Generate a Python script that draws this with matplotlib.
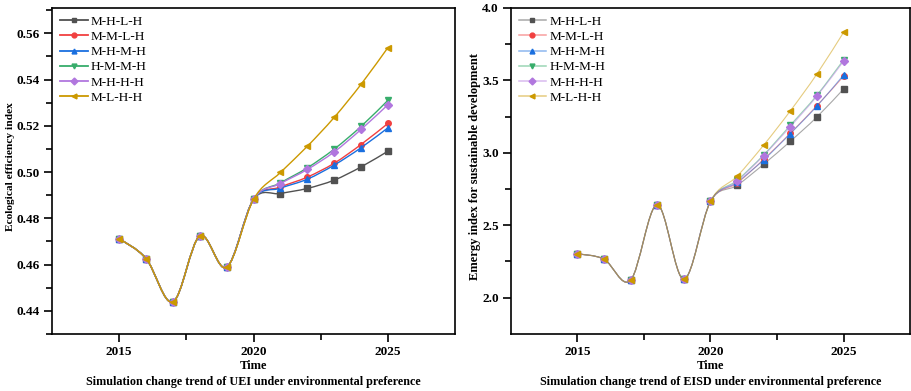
import numpy as np
import matplotlib
matplotlib.use("Agg")
import matplotlib.pyplot as plt
from matplotlib.path import Path
from matplotlib.patches import PathPatch
from matplotlib.lines import Line2D
from matplotlib.colors import to_rgba
from matplotlib.ticker import FormatStrFormatter

plt.rcParams['font.family'] = ['Liberation Serif', 'DejaVu Serif']

years = [2015, 2016, 2017, 2018, 2019, 2020, 2021, 2022, 2023, 2024, 2025]
names = ['M-H-L-H', 'M-M-L-H', 'M-H-M-H', 'H-M-M-H', 'M-H-H-H', 'M-L-H-H']

# ecological efficiency index (UEI)
uei_hist = [0.4712, 0.4626, 0.4438, 0.4724, 0.4588, 0.4882]
uei_mhlh = [0.4907, 0.4929, 0.4965, 0.5022, 0.5090]
uei_mmlh = [0.4935, 0.4978, 0.5038, 0.5119, 0.5210]
uei_mhmh = [0.4930, 0.4969, 0.5030, 0.5105, 0.5191]
uei_hmmh = [0.4953, 0.5018, 0.5099, 0.5197, 0.5310]
uei_mhhh = [0.4950, 0.5011, 0.5087, 0.5184, 0.5291]
uei_mlhh = [0.4998, 0.5111, 0.5236, 0.5379, 0.5538]

# emergy index for sustainable development (EISD)
eisd_hist = [2.303, 2.266, 2.120, 2.641, 2.127, 2.664]
eisd_mhlh = [2.775, 2.921, 3.079, 3.247, 3.440]
eisd_mmlh = [2.790, 2.955, 3.135, 3.325, 3.528]
eisd_mhmh = [2.796, 2.951, 3.132, 3.322, 3.537]
eisd_hmmh = [2.810, 2.986, 3.190, 3.398, 3.641]
eisd_mhhh = [2.803, 2.981, 3.180, 3.391, 3.632]
eisd_mlhh = [2.838, 3.053, 3.289, 3.544, 3.831]

colors = ['#515151', '#F14040', '#1A6FDF', '#37AD6B', '#B177DE', '#CC9900']
markers = ['s', 'o', '^', 'v', 'D', '<']


def spline_path(x, y):
    # catmull-rom curve through the points, as cubic bezier segments
    x = np.asarray(x, float)
    y = np.asarray(y, float)
    n = len(x)
    verts = [(x[0], y[0])]
    codes = [Path.MOVETO]
    for i in range(n - 1):
        p0 = i - 1 if i > 0 else i
        p3 = i + 2 if i + 2 < n else i + 1
        c1 = (x[i] + (x[i + 1] - x[p0]) / 6, y[i] + (y[i + 1] - y[p0]) / 6)
        c2 = (x[i + 1] - (x[p3] - x[i]) / 6, y[i + 1] - (y[p3] - y[i]) / 6)
        verts += [c1, c2, (x[i + 1], y[i + 1])]
        codes += [Path.CURVE4] * 3
    return Path(verts, codes)


def draw(ax, hist, futures, lw, alpha, ylabel, ylsize, caption, ylim, yticks, yminor, ylx):
    for k, fut in enumerate(futures):
        y = hist + fut
        ax.add_patch(PathPatch(spline_path(years, y), fill=False,
                               edgecolor=to_rgba(colors[k], alpha), lw=lw, zorder=2 + k))
        ax.plot(years, y, linestyle='none', marker=markers[k], ms=4,
                color=colors[k], zorder=3 + k)
    handles = [Line2D([], [], color=to_rgba(colors[k], alpha), marker=markers[k], ms=3.5,
                      mfc=colors[k], mec=colors[k], lw=lw + 0.3) for k in range(6)]
    ax.legend(handles, names, loc='upper left', frameon=False, fontsize=9.5,
              handlelength=2.1, labelspacing=0.22, borderaxespad=0.2,
              handletextpad=0.25)
    ax.set_xlim(2012.5, 2027.5)
    ax.set_ylim(*ylim)
    ax.set_xticks([2015, 2020, 2025])
    ax.set_xticks([2017.5, 2022.5], minor=True)
    ax.set_yticks(yticks)
    ax.set_yticks(yminor, minor=True)
    ax.tick_params(which='both', direction='out', top=False, right=False,
                   labelsize=9.5, width=1.2, pad=2.5)
    ax.tick_params(which='major', length=6)
    ax.tick_params(which='minor', length=4)
    for s in ax.spines.values():
        s.set_linewidth(1.2)
    ax.set_xlabel('Time', fontweight='bold', fontsize=9, labelpad=1.5)
    ax.set_ylabel(ylabel, fontweight='bold', fontsize=ylsize)
    ax.yaxis.set_label_coords(ylx, 0.512)
    ax.text(0.5, -0.148, caption, transform=ax.transAxes, ha='center',
            va='center', fontweight='bold', fontsize=8.7)


fig = plt.figure(figsize=(9.12, 3.91), dpi=100)
ax1 = fig.add_axes([0.057, 0.146, 0.442, 0.834])
ax2 = fig.add_axes([0.560, 0.146, 0.438, 0.834])

draw(ax1, uei_hist, [uei_mhlh, uei_mmlh, uei_mhmh, uei_hmmh, uei_mhhh, uei_mlhh],
     1.0, 1.0, 'Ecological efficiency index', 8.2,
     'Simulation change trend of UEI under environmental preference',
     (0.43, 0.571), [0.44, 0.46, 0.48, 0.50, 0.52, 0.54, 0.56],
     [0.43, 0.45, 0.47, 0.49, 0.51, 0.53, 0.55, 0.57], -0.092)
ax1.yaxis.set_major_formatter(FormatStrFormatter('%.2f'))

draw(ax2, eisd_hist, [eisd_mhlh, eisd_mmlh, eisd_mhmh, eisd_hmmh, eisd_mhhh, eisd_mlhh],
     0.8, 0.5, 'Emergy index for sustainable development', 9,
     'Simulation change trend of EISD under environmental preference',
     (1.75, 4.0), [2.0, 2.5, 3.0, 3.5, 4.0], [2.25, 2.75, 3.25, 3.75], -0.075)
ax2.yaxis.set_major_formatter(FormatStrFormatter('%.1f'))

for ax in (ax1, ax2):
    for lab in ax.get_xticklabels() + ax.get_yticklabels():
        lab.set_fontweight('bold')

fig.savefig('out.png', dpi=100)
